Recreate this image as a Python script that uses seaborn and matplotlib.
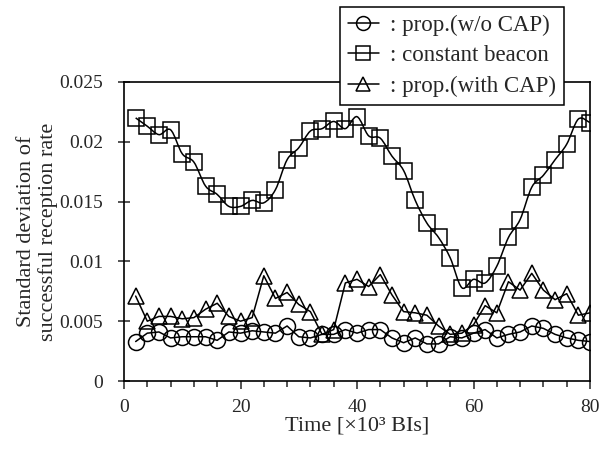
import numpy as np
import matplotlib
matplotlib.use("Agg")
import matplotlib.pyplot as plt
from matplotlib.path import Path
from matplotlib.patches import PathPatch
from matplotlib.lines import Line2D
from matplotlib.ticker import MultipleLocator, FuncFormatter
import seaborn as sns

# time axis [x10^3 BIs]
time = [2, 4, 6, 8, 10, 12, 14, 16, 18, 20, 22, 24, 26, 28, 30, 32, 34, 36, 38, 40,
        42, 44, 46, 48, 50, 52, 54, 56, 58, 60, 62, 64, 66, 68, 70, 72, 74, 76, 78, 80]

prop_wo_cap = [0.0033, 0.0040, 0.0041, 0.0036, 0.0037, 0.0037, 0.0037, 0.0034, 0.0041, 0.0040,
               0.0042, 0.0041, 0.0040, 0.0046, 0.0037, 0.0036, 0.0039, 0.0039, 0.0043, 0.0040,
               0.0043, 0.0043, 0.0036, 0.0032, 0.0036, 0.0031, 0.0031, 0.0037, 0.0036, 0.0040,
               0.0043, 0.0036, 0.0039, 0.0041, 0.0046, 0.0044, 0.0039, 0.0036, 0.0034, 0.0033]

constant_beacon = [0.0220, 0.0213, 0.0206, 0.0210, 0.0190, 0.0183, 0.0163, 0.0156, 0.0146, 0.0146,
                   0.0151, 0.0149, 0.0160, 0.0185, 0.0195, 0.0209, 0.0211, 0.0217, 0.0211, 0.0221,
                   0.0205, 0.0203, 0.0188, 0.0176, 0.0151, 0.0132, 0.0120, 0.0103, 0.0078, 0.0085,
                   0.0082, 0.0096, 0.0120, 0.0135, 0.0162, 0.0172, 0.0185, 0.0198, 0.0219, 0.0216]

prop_with_cap = [0.0071, 0.0050, 0.0054, 0.0054, 0.0052, 0.0053, 0.0060, 0.0065, 0.0054, 0.0050,
                 0.0053, 0.0088, 0.0069, 0.0074, 0.0064, 0.0058, 0.0039, 0.0043, 0.0082, 0.0085,
                 0.0079, 0.0089, 0.0072, 0.0058, 0.0057, 0.0055, 0.0046, 0.0039, 0.0040, 0.0047,
                 0.0063, 0.0057, 0.0083, 0.0076, 0.0090, 0.0076, 0.0068, 0.0073, 0.0055, 0.0057]

labels = [": prop.(w/o CAP)", ": constant beacon", ": prop.(with CAP)"]
markers = ['o', 's', '^']

sns.set_style("ticks")
plt.rcParams['font.family'] = ['Liberation Serif', 'DejaVu Serif']

fig = plt.figure(figsize=(6.01, 4.49), dpi=100)
ax = fig.add_axes([124 / 601, 1 - 381 / 449, 466 / 601, 299 / 449])

mk = dict(color='black', markerfacecolor='none', markeredgecolor='black',
          markeredgewidth=1.1, markersize=11.5, linewidth=1.1, legend=False)

sns.lineplot(x=time, y=prop_wo_cap, marker='o', ax=ax, **mk)

# constant beacon: smoothed line (Excel style) + square markers
xs = np.array(time, dtype=float)
ys = np.array(constant_beacon)
verts = [(xs[0], ys[0])]
codes = [Path.MOVETO]
n = len(xs)
for i in range(n - 1):
    p0 = (xs[max(i - 1, 0)], ys[max(i - 1, 0)])
    p1 = (xs[i], ys[i])
    p2 = (xs[i + 1], ys[i + 1])
    p3 = (xs[min(i + 2, n - 1)], ys[min(i + 2, n - 1)])
    c1 = (p1[0] + (p2[0] - p0[0]) / 6, p1[1] + (p2[1] - p0[1]) / 6)
    c2 = (p2[0] - (p3[0] - p1[0]) / 6, p2[1] - (p3[1] - p1[1]) / 6)
    verts += [c1, c2, p2]
    codes += [Path.CURVE4] * 3
ax.add_patch(PathPatch(Path(verts, codes), facecolor='none', edgecolor='black', linewidth=1.1))
sns.lineplot(x=time, y=constant_beacon, marker='s', ax=ax, **dict(mk, linestyle='none'))

sns.lineplot(x=time, y=prop_with_cap, marker='^', ax=ax, **mk)

ax.set_xlim(0, 80)
ax.set_ylim(0, 0.025)
ax.xaxis.set_major_locator(MultipleLocator(20))
ax.xaxis.set_minor_locator(MultipleLocator(4))
ax.yaxis.set_major_locator(MultipleLocator(0.005))
ax.yaxis.set_major_formatter(FuncFormatter(lambda v, p: '%g' % round(v, 4)))

ax.tick_params(axis='x', which='major', direction='out', length=6, width=1.1,
               labelsize=14, pad=7)
ax.tick_params(axis='x', which='minor', direction='out', length=4, width=1.1)
ax.tick_params(axis='y', which='major', direction='inout', length=8, width=1.1,
               labelsize=14, pad=11)

for s in ax.spines.values():
    s.set_linewidth(1.2)
    s.set_color('black')

ax.set_xlabel("Time [\u00d710\u00b3 BIs]", fontsize=16)
ax.xaxis.set_label_coords(0.5, -0.118)
ax.set_ylabel("Standard deviation of\nsuccessful reception rate", fontsize=16, linespacing=1.15)
ax.yaxis.set_label_coords(-0.142, 0.5)

# legend: black frame overlapping top of the axes
handles = [Line2D([], [], color='black', linewidth=1.1, marker=m, markersize=10,
                  markerfacecolor='none', markeredgecolor='black', markeredgewidth=1.1)
           for m in markers]
leg = ax.legend(handles, labels, loc='upper left', bbox_to_anchor=(340 / 601, 1 - 7 / 449),
                bbox_transform=fig.transFigure, borderaxespad=0, fontsize=16.5,
                frameon=True, fancybox=False, framealpha=1, edgecolor='black',
                handlelength=1.35, handletextpad=0.5, labelspacing=0.4, borderpad=0.35)
leg.get_frame().set_linewidth(1.1)
leg.set_zorder(10)

fig.savefig("out.png", dpi=100)
